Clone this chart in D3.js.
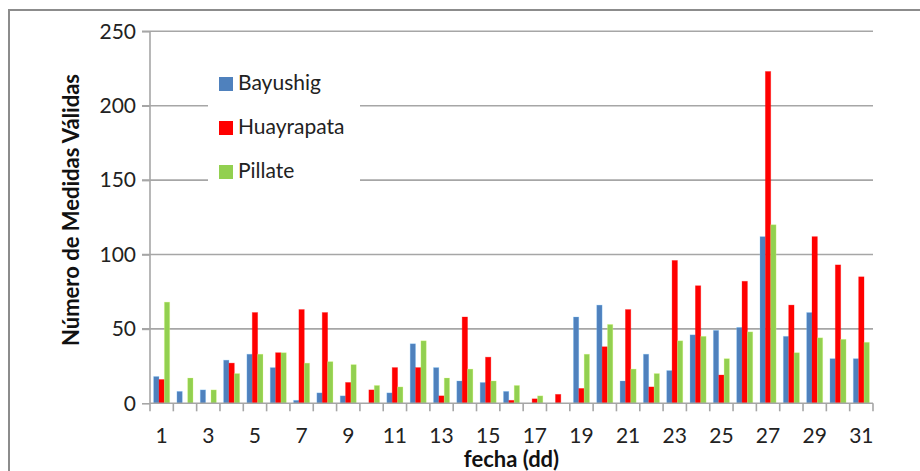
<!DOCTYPE html>
<html>
<head>
<meta charset="utf-8">
<script src="https://cdn.jsdelivr.net/npm/d3@7"></script>
<style>
  body { margin: 0; background: #fff; }
  svg { display: block; font-family: Lato, "Open Sans", sans-serif; }
</style>
</head>
<body>
<svg id="chart" width="920" height="471"></svg>
<script>
// dias del mes
var days = d3.range(1, 32);
var seriesNames = ["Bayushig", "Huayrapata", "Pillate"];
var seriesColors = ["#4F81BD", "#FF0000", "#92D050"];

var bayushig   = [18, 8, 9, 29, 33, 24, 2, 7, 5, 0, 7, 40, 24, 15, 14, 8, 0, 0, 58, 66, 15, 33, 22, 46, 49, 51, 112, 45, 61, 30, 30];
var huayrapata = [16, 0, 0, 27, 61, 34, 63, 61, 14, 9, 24, 24, 5, 58, 31, 2, 3, 6, 10, 38, 63, 11, 96, 79, 19, 82, 223, 66, 112, 93, 85];
var pillate    = [68, 17, 9, 20, 33, 34, 27, 28, 26, 12, 11, 42, 17, 23, 15, 12, 5, 0, 33, 53, 23, 20, 42, 45, 30, 48, 120, 34, 44, 43, 41];

var yTicks = [0, 50, 100, 150, 200, 250];
var xLabels = days.filter(function (d) { return d % 2 == 1; });

var values = [bayushig, huayrapata, pillate];

var svg = d3.select("#chart");
var pLeft = 150, pRight = 873, pTop = 31.3, pBottom = 403.3;

// marco exterior
svg.append("rect")
  .attr("x", 9).attr("y", 10)
  .attr("width", 940).attr("height", 500)
  .attr("fill", "none").attr("stroke", "#8c8c8c").attr("stroke-width", 2);

var x = d3.scaleBand().domain(days).range([pLeft, pRight]).paddingInner(0.31).paddingOuter(0.155);
var xs = d3.scaleBand().domain([0, 1, 2]).range([0, x.bandwidth()]);
var y = d3.scaleLinear().domain([0, 250]).range([pBottom, pTop]);

// grid
svg.append("g").selectAll("line")
  .data(yTicks.filter(function (t) { return t > 0; }))
  .enter().append("line")
  .attr("x1", pLeft - 8).attr("x2", pRight)
  .attr("y1", function (d) { return y(d); }).attr("y2", function (d) { return y(d); })
  .attr("stroke", "#a6a6a6").attr("stroke-width", 1.6);

// barras
var groups = svg.append("g").selectAll("g")
  .data(days)
  .enter().append("g")
  .attr("transform", function (d) { return "translate(" + x(d) + ",0)"; });

groups.selectAll("rect")
  .data(function (d, i) { return values.map(function (v, s) { return { s: s, v: v[i] }; }); })
  .enter().append("rect")
  .filter(function (d) { return d.v > 0; })
  .attr("x", function (d) { return xs(d.s); })
  .attr("width", xs.bandwidth())
  .attr("y", function (d) { return y(d.v); })
  .attr("height", function (d) { return pBottom - y(d.v); })
  .attr("fill", function (d) { return seriesColors[d.s]; })
  .attr("stroke", function (d) { return d3.color(seriesColors[d.s]).brighter(1.2); })
  .attr("stroke-opacity", 0.35)
  .attr("stroke-width", 0.8);

// eje y
var yAxis = svg.append("g")
  .attr("transform", "translate(" + pLeft + ",0)")
  .call(d3.axisLeft(y).tickValues(yTicks).tickSize(8).tickPadding(6));
yAxis.select(".domain").attr("stroke", "#a6a6a6").attr("stroke-width", 1.6).attr("d", "M0," + pTop + "V" + pBottom);
yAxis.selectAll(".tick line").attr("stroke", "#a6a6a6").attr("stroke-width", 1.6);
yAxis.selectAll("text").attr("font-size", 21).attr("fill", "#222").attr("font-family", "Lato, sans-serif");

// eje x
var xPos = d3.scaleLinear().domain([0.5, 31.5]).range([pLeft, pRight]);
var xAxis = svg.append("g").attr("transform", "translate(0," + pBottom + ")");
xAxis.append("line")
  .attr("x1", pLeft).attr("x2", pRight)
  .attr("stroke", "#a6a6a6").attr("stroke-width", 1.6);
xAxis.selectAll(".tk")
  .data(d3.range(0, 32))
  .enter().append("line")
  .attr("class", "tk")
  .attr("x1", function (d) { return xPos(d + 0.5); }).attr("x2", function (d) { return xPos(d + 0.5); })
  .attr("y1", 0).attr("y2", 8)
  .attr("stroke", "#a6a6a6").attr("stroke-width", 1.6);
xAxis.selectAll("text")
  .data(xLabels)
  .enter().append("text")
  .attr("x", function (d) { return x(d) + x.bandwidth() / 2; })
  .attr("y", 40)
  .attr("text-anchor", "middle")
  .attr("font-size", 21).attr("fill", "#222")
  .text(function (d) { return d; });

// titulos
svg.append("text")
  .attr("transform", "translate(79,210) rotate(-90)")
  .attr("text-anchor", "middle")
  .attr("font-size", 22).attr("font-weight", "bold").attr("fill", "#111")
  .text("Número de Medidas Válidas");

svg.append("text")
  .attr("x", (pLeft + pRight) / 2).attr("y", 467)
  .attr("text-anchor", "middle")
  .attr("font-size", 22).attr("font-weight", "bold").attr("fill", "#111")
  .text("fecha (dd)");

// leyenda
var legend = svg.append("g");
legend.append("rect")
  .attr("x", 208).attr("y", 60).attr("width", 152).attr("height", 135)
  .attr("fill", "#fff");
var items = legend.selectAll("g.item")
  .data(seriesNames)
  .enter().append("g")
  .attr("class", "item")
  .attr("transform", function (d, i) { return "translate(219," + (77 + i * 44) + ")"; });
items.append("rect")
  .attr("width", 14).attr("height", 14)
  .attr("fill", function (d, i) { return seriesColors[i]; });
items.append("text")
  .attr("x", 19).attr("y", 13)
  .attr("font-size", 21).attr("fill", "#222")
  .text(function (d) { return d; });
</script>
</body>
</html>
